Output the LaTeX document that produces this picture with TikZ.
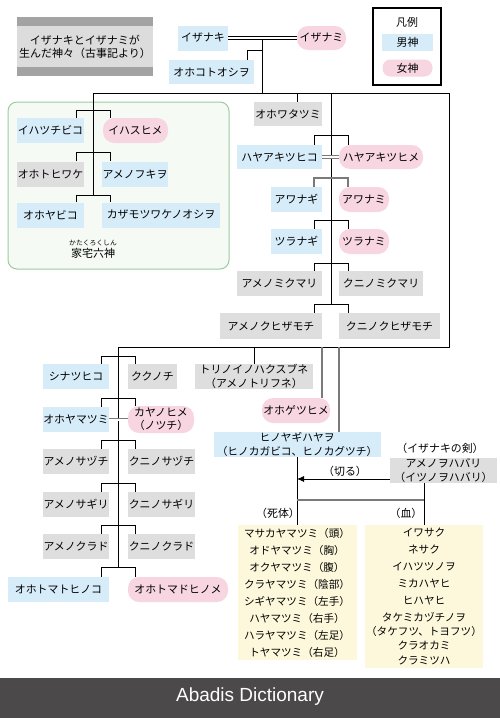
\documentclass[tikz,border=0pt]{standalone}
\usepackage{fontspec}
\setmainfont{Noto Sans CJK JP}
\newfontfamily\latinfont{Liberation Sans}
\usetikzlibrary{arrows.meta}
\definecolor{mblue}{HTML}{D6ECF9}
\definecolor{fpink}{HTML}{F8D6E1}
\definecolor{ngray}{HTML}{DEDEDE}
\definecolor{yel}{HTML}{FDF8DC}
\definecolor{grn}{HTML}{9DCB9F}
\definecolor{grnfill}{HTML}{F6FAF5}
\definecolor{banner}{HTML}{4B4949}
\definecolor{tbar}{HTML}{A3A3A3}
\definecolor{tmid}{HTML}{DCDCDC}
\definecolor{lgray}{HTML}{7A7A7A}
\newcommand\jf{\fontsize{10.9}{14}\selectfont}
\newcommand\pbr[5][ln]{%
  \coordinate (pbL) at ({#4-17},#5);
  \coordinate (pbR) at ({#4+17},#5);
  \draw[#1] (pbL |- #2.north) -- (pbL) -- (pbR) -- (pbR |- #3.north);}
\tikzset{
  box/.style={inner sep=0pt, minimum height=25pt, font=\jf, align=center, text=black},
  male/.style={box, fill=mblue},
  female/.style={box, fill=fpink, rounded corners=11pt},
  neutral/.style={box, fill=ngray},
  ln/.style={draw=black, line width=0.8pt},
  gln/.style={draw=lgray, line width=1.3pt},
  dblk/.style={draw=black, line width=0.7pt, double=white, double distance=2pt},
  dgry/.style={draw=lgray, line width=0.8pt, double=white, double distance=2pt},
  lbl/.style={inner sep=0pt, font=\jf, text=black, align=center},
  yelbox/.style={fill=yel, inner sep=0pt, font={\fontsize{10.6}{17}\selectfont}, align=center}
}
\begin{document}
\begin{tikzpicture}[x=1pt,y=-1pt]
\useasboundingbox (0,0) rectangle (500,718);
\fill[white] (0,0) rectangle (500,718);
% group background
\draw[draw=grn, fill=grnfill, line width=1pt, rounded corners=9pt] (8,102) rectangle (229,269);
% title
\node[fill=tmid, minimum width=136pt, minimum height=41pt, inner sep=0pt] (title) at (85,46.5) {};
\fill[tbar] (title.north west) rectangle ++(136,-9);
\fill[tbar] (title.south west) rectangle ++(136,9);
\node[lbl, font={\fontsize{11}{13}\selectfont}] (titletext) at (85,46.5) {イザナキとイザナミが\\生んだ神々（古事記より）};
% legend
\node[draw=black, line width=1.6pt, minimum width=68pt, minimum height=77pt, inner sep=0pt] (legend) at (407,46.5) {};
\node[lbl] (hanrei) at (407,22) {凡例};
\node[male, minimum width=51pt, minimum height=17pt] (lgm) at (407.5,42.5) {男神};
\node[female, minimum width=50pt, minimum height=17pt, rounded corners=8pt] (lgf) at (407.5,68) {女神};

% ---------- nodes ----------
\node[male, minimum width=50pt] (izanaki) at (203,38) {イザナキ};
\node[female, minimum width=49pt, minimum height=24pt] (izanami) at (321.5,38) {イザナミ};
\node[male, minimum width=85pt, minimum height=24pt] (okoto) at (211.5,72) {オホコトオシヲ};
\node[neutral, minimum width=68pt, minimum height=24pt] (owata) at (288,114) {オホワタツミ};

\node[male, minimum width=67pt] (ihatsuchi) at (50.5,130.5) {イハツチビコ};
\node[female, minimum width=65pt] (ihasu) at (135.5,130.5) {イハスヒメ};
\node[neutral, minimum width=67pt] (ohotohi) at (50.5,174) {オホトヒワケ};
\node[male, minimum width=66pt] (amefuki) at (135,174) {アメノフキヲ};
\node[male, minimum width=67pt] (ohoyabi) at (50.5,215) {オホヤビコ};
\node[male, minimum width=118pt] (kazamotsu) at (161,215) {カザモツワケノオシヲ};
\node[lbl, font={\fontsize{6.8}{8}\selectfont}] (ruby) at (93,242.5) {かたくろくしん};
\node[lbl, font={\fontsize{11}{13}\selectfont}] (kataku) at (93,253) {家宅六神};

\node[male, minimum width=85pt, minimum height=24pt] (hayahiko) at (279.5,157) {ハヤアキツヒコ};
\node[female, minimum width=84pt, minimum height=24pt] (hayahime) at (381,157) {ハヤアキツヒメ};
\node[male, minimum width=51pt] (awanagi) at (296.5,199.5) {アワナギ};
\node[female, minimum width=50pt] (awanami) at (364,199.5) {アワナミ};
\node[male, minimum width=51pt] (tsuranagi) at (296.5,241.5) {ツラナギ};
\node[female, minimum width=50pt] (tsuranami) at (364,241.5) {ツラナミ};
\node[neutral, minimum width=85pt] (amemiku) at (279.5,283.5) {アメノミクマリ};
\node[neutral, minimum width=84pt] (kunimiku) at (381,283.5) {クニノミクマリ};
\node[neutral, minimum width=102pt, minimum height=26pt] (amekuhi) at (271,326) {アメノクヒザモチ};
\node[neutral, minimum width=101pt, minimum height=26pt] (kunikuhi) at (389.5,326) {クニノクヒザモチ};

\node[male, minimum width=66pt] (shinatsu) at (76,376.5) {シナツヒコ};
\node[neutral, minimum width=49pt] (kukunochi) at (152.5,376.5) {ククノチ};
\node[male, minimum width=66pt] (ohoyama) at (76,419.5) {オホヤマツミ};
\node[female, minimum width=66pt, minimum height=27pt, font={\fontsize{10.9}{13}\selectfont}] (kaya) at (161,419.5) {カヤノヒメ\\（ノツチ）};
\node[neutral, minimum width=66pt] (amesazu) at (76,461.5) {アメノサヅチ};
\node[neutral, minimum width=67pt] (kunisazu) at (161.5,461.5) {クニノサヅチ};
\node[neutral, minimum width=66pt] (amesagi) at (76,504.5) {アメノサギリ};
\node[neutral, minimum width=67pt] (kunisagi) at (161.5,504.5) {クニノサギリ};
\node[neutral, minimum width=66pt] (amekura) at (76,546.5) {アメノクラド};
\node[neutral, minimum width=67pt] (kunikura) at (161.5,546.5) {クニノクラド};
\node[male, minimum width=101pt] (ohotomatohi) at (58.5,589.5) {オホトマトヒノコ};
\node[female, minimum width=100pt] (ohotomadohi) at (178,589.5) {オホトマドヒノメ};

\node[neutral, minimum width=118pt, font={\fontsize{10.9}{13.5}\selectfont}] (torino) at (254,376.5) {トリノイノハクスブネ\\（アメノトリフネ）};
\node[female, minimum width=68pt] (ogetsu) at (296,410.5) {オホゲツヒメ};
\node[male, minimum width=167pt, font={\fontsize{10.7}{14.5}\selectfont}] (hinoyagi) at (297,444.5) {ヒノヤギハヤヲ\\（ヒノカガビコ、ヒノカグツチ）};
\node[lbl] (ken) at (440,448) {（イザナキの剣）};
\node[neutral, minimum width=107pt, font={\fontsize{10.9}{14}\selectfont}] (wo) at (443.5,470.5) {アメノヲハバリ\\（イツノヲハバリ）};
\node[lbl] (kiru) at (345,471) {（切る）};
\node[lbl] (shitailbl) at (278,513) {（死体）};
\node[lbl] (chilbl) at (406,513) {（血）};

\node[yelbox, minimum width=119pt, minimum height=135pt] (shitai) at (297,592.5)
 {マサカヤマツミ（頭）\\オドヤマツミ（胸）\\オクヤマツミ（腹）\\クラヤマツミ（陰部）\\シギヤマツミ（左手）\\ハヤマツミ（右手）\\ハラヤマツミ（左足）\\トヤマツミ（右足）};
\node[yelbox, minimum width=118pt, minimum height=143pt] (ketsu) at (424,596.5)
 {イワサク\\ネサク\\イハツツノヲ\\ミカハヤヒ\\ヒハヤヒ\\タケミカヅチノヲ\\[-3pt]（タケフツ、トヨフツ）\\[-3pt]クラオカミ\\[-2pt]クラミツハ};

% ---------- connectors ----------
\draw[dblk] (izanaki.east) -- (izanami.west);
\coordinate (j0) at (262,39);
\coordinate (tl) at (93,93);
\coordinate (tr) at (449,93);
\coordinate (brc) at (449,347);
\coordinate (blc) at (118,347);
\coordinate (c262) at (262,93);
\draw[ln] (j0) -- (c262);
\coordinate (c247) at (247,50);
\draw[ln] (262,50) -- (c247) -- (c247 |- okoto.north);
\draw[ln] (tl) -- (tr) -- (brc) -- (blc) -- (118,567);
\draw[ln] (tl) -- (93,195);
\coordinate (c297) at (297,93);
\draw[ln] (c297) -- (c297 |- owata.north);
\draw[ln] (331,93) -- (331,304);

% left group
\pbr{ihatsuchi}{ihasu}{93}{110}
\pbr{ohotohi}{amefuki}{93}{152}
\pbr{ohoyabi}{kazamotsu}{93}{195}

% right column
\pbr{hayahiko}{hayahime}{331}{135}
\draw[dgry] (hayahiko.east) -- (hayahime.west);
\pbr[gln]{awanagi}{awanami}{331}{178}
\pbr{tsuranagi}{tsuranami}{331}{220}
\pbr{amemiku}{kunimiku}{331}{263}
\pbr{amekuhi}{kunikuhi}{331}{304}

% lower left column
\pbr{shinatsu}{kukunochi}{118}{356}
\pbr{ohoyama}{kaya}{118}{398}
\draw[dgry] (ohoyama.east) -- (kaya.west);
\pbr{amesazu}{kunisazu}{118}{440}
\pbr{amesagi}{kunisagi}{118}{483}
\pbr{amekura}{kunikura}{118}{525}
\pbr{ohotomatohi}{ohotomadohi}{118}{567}

% from bottom line
\coordinate (c254) at (254,347);
\draw[ln] (c254) -- (c254 |- torino.north);
\coordinate (c322) at (322,347);
\draw[gln] (c322) -- (c322 |- ogetsu.north);
\coordinate (c339) at (339,347);
\draw[gln] (c339) -- (c339 |- hinoyagi.north);

% fire god
\draw[ln] (hinoyagi.south) -- (shitai.north);
\draw[ln] (ketsu.north |- wo.south) -- (ketsu.north);
\coordinate (ar) at (297,479);
\draw[ln, -{Latex[length=7pt,width=6pt]}] (ar -| wo.west) -- (ar);
\coordinate (hb) at (297,500);
\draw[gln] (hb) -- (hb -| ketsu.north);

% banner
\fill[banner] (0,678) rectangle (500,718);
\node[text=white, inner sep=0pt, font={\latinfont\fontsize{19}{22}\selectfont}] (abadis) at (250,697) {Abadis Dictionary};
\end{tikzpicture}
\end{document}
